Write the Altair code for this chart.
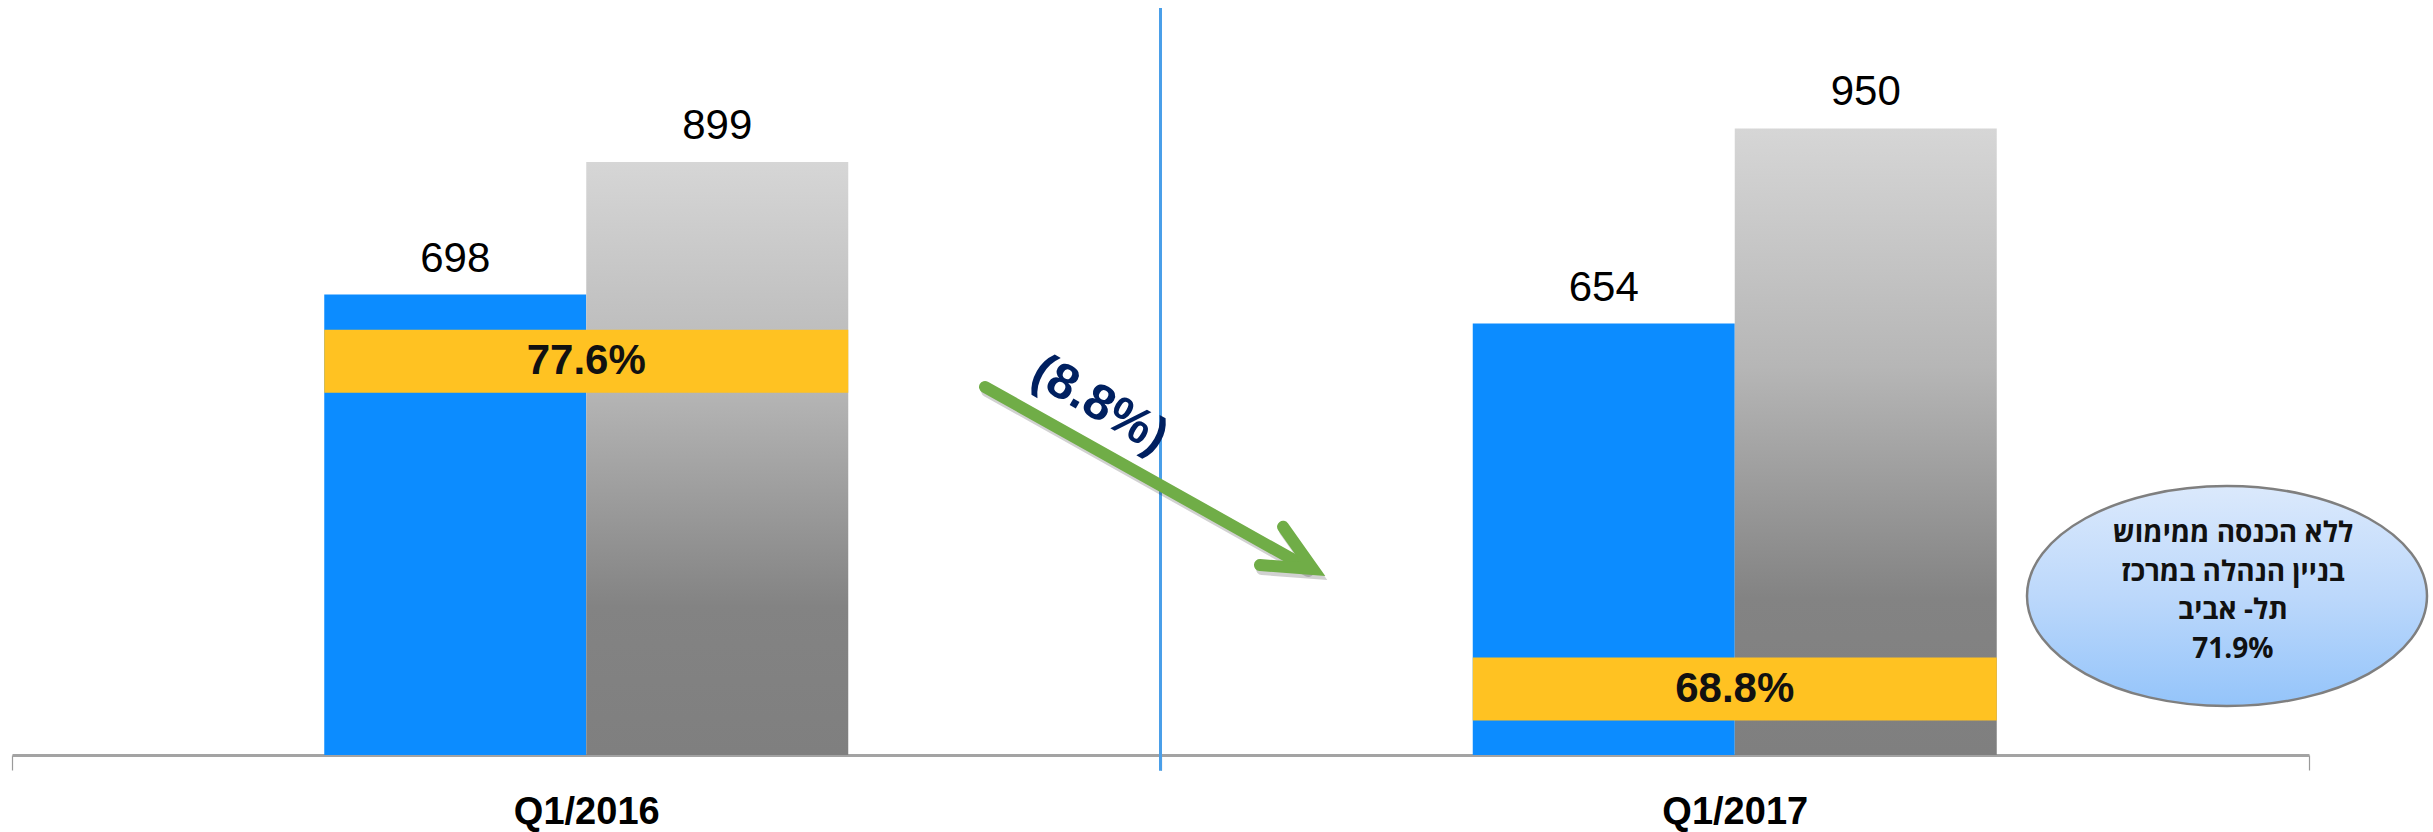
import altair as alt
import pandas as pd

# ---------------- data ----------------
quarters = ["Q1/2016", "Q1/2017"]
series = ["series_1", "series_2"]
blue_values = [698, 654]
gray_values = [899, 950]

change_label = "(8.8%)"
note_lines = ["ללא הכנסה ממימוש", "בניין הנהלה במרכז", "תל- אביב", "71.9%"]

# ---------------- annotation placement (data units) ----------------
# x of annotations measured in "quarter widths" (0..2), y in value units
ratio_box_y = [597, 100]
divider = {"x": [1.0], "y": [1132.5], "y2": [-24]}
arrow_shaft = {"x": [0.8472], "x2": [1.127], "y": [558], "y2": [285]}
arrow_head = {"x": [1.1067, 1.1328, 1.0866], "y": [346, 282, 288], "o": [0, 1, 2]}
change_pos = {"x": [0.947], "y": [531], "t": [change_label]}
note_shape = {"x": [1.9286], "y": [241]}
note_text = {"x": [1.9338], "y": [335], "t": ["\n".join(note_lines)]}

FONT = "Liberation Sans, DejaVu Sans, sans-serif"
NOTE_FONT = "Open Sans, DejaVu Sans, sans-serif"
BLUE = "#0c8cff"
YELLOW = "#ffc222"
GREEN = "#70ad47"

PLOT_W = 2297
PLOT_H = 747
BAND = PLOT_W / len(quarters)
GROUP_W = 524  # two bars side by side
GROUP_START = (BAND - GROUP_W) / 2

bars_df = pd.DataFrame({
    "quarter": quarters * 2,
    "series": [series[0]] * len(quarters) + [series[1]] * len(quarters),
    "value": blue_values + gray_values,
})
ratio_df = pd.DataFrame({
    "quarter": quarters,
    "ratio": [f"{b / g:.1%}" for b, g in zip(blue_values, gray_values)],
    "y": ratio_box_y,
})

y_scale = alt.Scale(domain=[0, 1132.5], nice=False, zero=True)

x_enc = alt.X(
    "quarter:N",
    scale=alt.Scale(domain=quarters, paddingInner=0, paddingOuter=0),
    axis=alt.Axis(
        title=None,
        labelAngle=0,
        tickBand="extent",
        domainColor="#a3a3a3",
        domainWidth=3,
        tickColor="#9a9a9a",
        tickWidth=1.2,
        tickSize=15,
        labelFont=FONT,
        labelFontSize=38,
        labelFontWeight="bold",
        labelColor="#000000",
        labelBaseline="alphabetic",
        labelPadding=53,
    ),
)
xoff = alt.XOffset(
    "series:N",
    scale=alt.Scale(domain=series, range=[GROUP_START, GROUP_START + GROUP_W],
                    paddingInner=0, paddingOuter=0),
)
y_val = alt.Y("value:Q", scale=y_scale, axis=None)

blue_bars = (
    alt.Chart(bars_df)
    .transform_filter(alt.datum.series == series[0])
    .mark_bar(color=BLUE)
    .encode(x=x_enc, xOffset=xoff, y=y_val)
)

gray_grad = alt.Gradient(
    gradient="linear",
    stops=[
        alt.GradientStop(color="#d6d6d6", offset=0),
        alt.GradientStop(color="#b6b6b6", offset=0.38),
        alt.GradientStop(color="#838383", offset=0.75),
        alt.GradientStop(color="#7f7f7f", offset=1),
    ],
    x1=0, x2=0, y1=0, y2=1,
)
gray_bars = (
    alt.Chart(bars_df)
    .transform_filter(alt.datum.series == series[1])
    .mark_bar(fill=gray_grad)
    .encode(x=x_enc, xOffset=xoff, y=y_val)
)

value_labels = (
    alt.Chart(bars_df)
    .mark_text(font=FONT, fontSize=42, baseline="alphabetic", dy=-23, color="#000000")
    .encode(x=x_enc, xOffset=xoff, y=y_val, text="value:Q")
)

ratio_boxes = (
    alt.Chart(ratio_df)
    .mark_tick(color=YELLOW, thickness=63, size=GROUP_W, opacity=1, filled=True)
    .encode(x=x_enc, y=alt.Y("y:Q", scale=y_scale, axis=None))
)
ratio_text = (
    alt.Chart(ratio_df)
    .mark_text(font=FONT, fontSize=42, fontWeight="bold", baseline="middle", color="#111111")
    .encode(x=x_enc, y=alt.Y("y:Q", scale=y_scale, axis=None), text="ratio:N")
)

main = alt.layer(blue_bars, gray_bars, value_labels, ratio_boxes, ratio_text)

# ---------------- annotations ----------------
ax = alt.X("x:Q", scale=alt.Scale(domain=[0, 2], nice=False, zero=False), axis=None)
ay = alt.Y("y:Q", scale=y_scale, axis=None)

divider_rule = (
    alt.Chart(pd.DataFrame(divider))
    .mark_rule(color="#4a9fe9", strokeWidth=3)
    .encode(x=ax, y=ay, y2="y2:Q")
)


def arrow_layers(color, dx=0, dy=0, opacity=1.0):
    shaft = (
        alt.Chart(pd.DataFrame(arrow_shaft))
        .mark_rule(color=color, strokeWidth=12, strokeCap="round", opacity=opacity,
                   xOffset=dx, x2Offset=dx, yOffset=dy, y2Offset=dy)
        .encode(x=ax, x2="x2:Q", y=ay, y2="y2:Q")
    )
    head = (
        alt.Chart(pd.DataFrame(arrow_head))
        .mark_line(color=color, strokeWidth=12, strokeCap="round", strokeJoin="miter",
                   opacity=opacity, xOffset=dx, yOffset=dy)
        .encode(x=ax, y=ay, order="o:O")
    )
    return [shaft, head]


arrow_shadow = arrow_layers("#000000", dx=2, dy=4, opacity=0.18)
arrow = arrow_layers(GREEN)

change_text = (
    alt.Chart(pd.DataFrame(change_pos))
    .mark_text(font=FONT, fontSize=50, fontWeight="bold", angle=30, color="#002060",
               align="center", baseline="middle")
    .encode(x=ax, y=ay, text="t:N")
)
ellipse_grad = alt.Gradient(
    gradient="linear",
    stops=[
        alt.GradientStop(color="#dbe9fc", offset=0),
        alt.GradientStop(color="#bcd8fb", offset=0.5),
        alt.GradientStop(color="#94c4fa", offset=1),
    ],
    x1=0, x2=0, y1=0, y2=1,
)
ellipse = (
    alt.Chart(pd.DataFrame(note_shape))
    .mark_point(
        shape="M -1 0 A 1 0.55 0 1 1 1 0 A 1 0.55 0 1 1 -1 0 Z",
        size=400 * 400,
        filled=True,
        fill=ellipse_grad,
        stroke="#7f7f7f",
        strokeWidth=2.5,
        opacity=1,
        fillOpacity=1,
    )
    .encode(x=ax, y=ay)
)
ellipse_label = (
    alt.Chart(pd.DataFrame(note_text))
    .mark_text(font=NOTE_FONT, fontSize=28, fontWeight="bold", lineBreak="\n", lineHeight=38.5,
               align="center", baseline="middle", color="#111111")
    .encode(x=ax, y=ay, text="t:N")
)

annot = alt.layer(divider_rule, *arrow_shadow, *arrow, change_text, ellipse, ellipse_label)

chart = (
    alt.layer(main, annot)
    .resolve_scale(x="independent")
    .properties(
        width=PLOT_W,
        height=PLOT_H,
        padding={"left": 12, "top": 8, "right": 124, "bottom": 77},
        autosize=alt.AutoSizeParams(type="none"),
        background="white",
    )
    .configure_view(stroke=None)
)

chart.save("out.html", embed_options={"renderer": "svg", "actions": False})
